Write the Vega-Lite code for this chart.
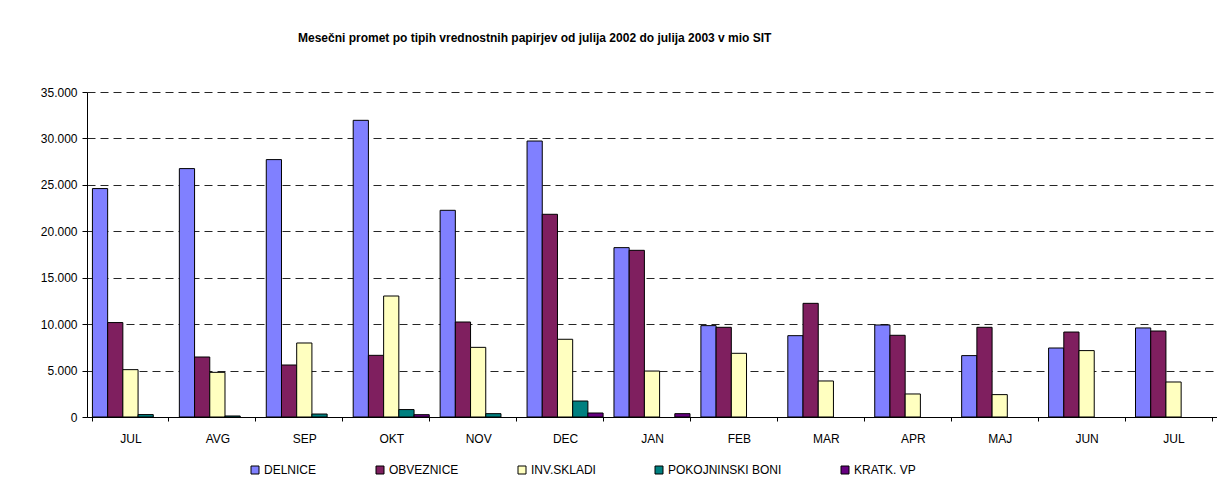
{
  "$schema": "https://vega.github.io/schema/vega-lite/v6.json",
  "width": 1130,
  "height": 325,
  "autosize": {"type": "none"},
  "padding": {"left": 87, "top": 92, "right": 0, "bottom": 67},
  "background": "white",
  "config": {"view": {"stroke": null}, "font": "Liberation Sans"},
  "title": {
    "text": "Mesečni promet po tipih vrednostnih papirjev od julija 2002 do julija 2003 v mio SIT",
    "anchor": "start",
    "frame": "group",
    "dx": 211,
    "offset": 41,
    "fontSize": 12,
    "fontWeight": "bold",
    "font": "Liberation Sans",
    "color": "#000"
  },
  "data": {
    "values": [
      {"month": "JUL 2002", "series": "DELNICE", "value": 24600},
      {"month": "JUL 2002", "series": "OBVEZNICE", "value": 10170},
      {"month": "JUL 2002", "series": "INV.SKLADI", "value": 5100},
      {"month": "JUL 2002", "series": "POKOJNINSKI BONI", "value": 260},
      {"month": "AVG 2002", "series": "DELNICE", "value": 26750},
      {"month": "AVG 2002", "series": "OBVEZNICE", "value": 6460},
      {"month": "AVG 2002", "series": "INV.SKLADI", "value": 4810},
      {"month": "AVG 2002", "series": "POKOJNINSKI BONI", "value": 110},
      {"month": "SEP 2002", "series": "DELNICE", "value": 27720},
      {"month": "SEP 2002", "series": "OBVEZNICE", "value": 5600},
      {"month": "SEP 2002", "series": "INV.SKLADI", "value": 7970},
      {"month": "SEP 2002", "series": "POKOJNINSKI BONI", "value": 320},
      {"month": "OKT 2002", "series": "DELNICE", "value": 31950},
      {"month": "OKT 2002", "series": "OBVEZNICE", "value": 6640},
      {"month": "OKT 2002", "series": "INV.SKLADI", "value": 13030},
      {"month": "OKT 2002", "series": "POKOJNINSKI BONI", "value": 800},
      {"month": "OKT 2002", "series": "KRATK. VP", "value": 250},
      {"month": "NOV 2002", "series": "DELNICE", "value": 22260},
      {"month": "NOV 2002", "series": "OBVEZNICE", "value": 10230},
      {"month": "NOV 2002", "series": "INV.SKLADI", "value": 7500},
      {"month": "NOV 2002", "series": "POKOJNINSKI BONI", "value": 360},
      {"month": "DEC 2002", "series": "DELNICE", "value": 29720},
      {"month": "DEC 2002", "series": "OBVEZNICE", "value": 21830},
      {"month": "DEC 2002", "series": "INV.SKLADI", "value": 8370},
      {"month": "DEC 2002", "series": "POKOJNINSKI BONI", "value": 1720},
      {"month": "DEC 2002", "series": "KRATK. VP", "value": 430},
      {"month": "JAN 2003", "series": "DELNICE", "value": 18240},
      {"month": "JAN 2003", "series": "OBVEZNICE", "value": 17950},
      {"month": "JAN 2003", "series": "INV.SKLADI", "value": 4950},
      {"month": "JAN 2003", "series": "KRATK. VP", "value": 360},
      {"month": "FEB 2003", "series": "DELNICE", "value": 9840},
      {"month": "FEB 2003", "series": "OBVEZNICE", "value": 9660},
      {"month": "FEB 2003", "series": "INV.SKLADI", "value": 6860},
      {"month": "MAR 2003", "series": "DELNICE", "value": 8760},
      {"month": "MAR 2003", "series": "OBVEZNICE", "value": 12240},
      {"month": "MAR 2003", "series": "INV.SKLADI", "value": 3880},
      {"month": "APR 2003", "series": "DELNICE", "value": 9910},
      {"month": "APR 2003", "series": "OBVEZNICE", "value": 8800},
      {"month": "APR 2003", "series": "INV.SKLADI", "value": 2480},
      {"month": "MAJ 2003", "series": "DELNICE", "value": 6610},
      {"month": "MAJ 2003", "series": "OBVEZNICE", "value": 9660},
      {"month": "MAJ 2003", "series": "INV.SKLADI", "value": 2410},
      {"month": "JUN 2003", "series": "DELNICE", "value": 7430},
      {"month": "JUN 2003", "series": "OBVEZNICE", "value": 9150},
      {"month": "JUN 2003", "series": "INV.SKLADI", "value": 7150},
      {"month": "JUL 2003", "series": "DELNICE", "value": 9590},
      {"month": "JUL 2003", "series": "OBVEZNICE", "value": 9260},
      {"month": "JUL 2003", "series": "INV.SKLADI", "value": 3770}
    ]
  },
  "mark": {"type": "bar", "stroke": "#000", "strokeWidth": 1},
  "encoding": {
    "x": {
      "field": "month",
      "type": "nominal",
      "sort": ["JUL 2002", "AVG 2002", "SEP 2002", "OKT 2002", "NOV 2002", "DEC 2002", "JAN 2003", "FEB 2003", "MAR 2003", "APR 2003", "MAJ 2003", "JUN 2003", "JUL 2003"],
      "scale": {"paddingInner": 0.125, "paddingOuter": 0.0625},
      "axis": {
        "title": null,
        "labelExpr": "slice(datum.label, 0, 3)",
        "labelAngle": 0,
        "tickBand": "extent",
        "tickSize": 4,
        "tickColor": "#000",
        "domainColor": "#000",
        "labelPadding": 12,
        "labelFontSize": 12,
        "labelColor": "#000",
        "labelFont": "Liberation Sans",
        "grid": false
      }
    },
    "xOffset": {
      "field": "series",
      "type": "nominal",
      "sort": ["DELNICE", "OBVEZNICE", "INV.SKLADI", "POKOJNINSKI BONI", "KRATK. VP"],
      "scale": {"domain": ["DELNICE", "OBVEZNICE", "INV.SKLADI", "POKOJNINSKI BONI", "KRATK. VP"], "paddingInner": 0, "paddingOuter": 0}
    },
    "y": {
      "field": "value",
      "type": "quantitative",
      "scale": {"domain": [0, 35000], "nice": false},
      "axis": {
        "title": null,
        "values": [0, 5000, 10000, 15000, 20000, 25000, 30000, 35000],
        "labelExpr": "replace(format(datum.value, ','), ',', '.')",
        "grid": true,
        "gridColor": "#000",
        "gridDash": [8, 5],
        "gridWidth": 1,
        "gridOpacity": 0.85,
        "domainColor": "#000",
        "tickColor": "#000",
        "tickSize": 5,
        "labelPadding": 5,
        "labelFontSize": 12,
        "labelColor": "#000",
        "labelFont": "Liberation Sans"
      }
    },
    "color": {
      "field": "series",
      "type": "nominal",
      "scale": {
        "domain": ["DELNICE", "OBVEZNICE", "INV.SKLADI", "POKOJNINSKI BONI", "KRATK. VP"],
        "range": ["#8080FF", "#7F1F5F", "#FFFFC0", "#008080", "#660080"]
      },
      "legend": {
        "title": null,
        "orient": "none",
        "legendX": 162,
        "legendY": 372,
        "direction": "horizontal",
        "padding": 0,
        "columnPadding": 57,
        "symbolType": "square",
        "symbolSize": 64,
        "symbolStrokeColor": "#000",
        "symbolStrokeWidth": 1,
        "symbolOpacity": 1,
        "labelOffset": 3,
        "labelFontSize": 12,
        "labelColor": "#000",
        "labelFont": "Liberation Sans"
      }
    }
  }
}
